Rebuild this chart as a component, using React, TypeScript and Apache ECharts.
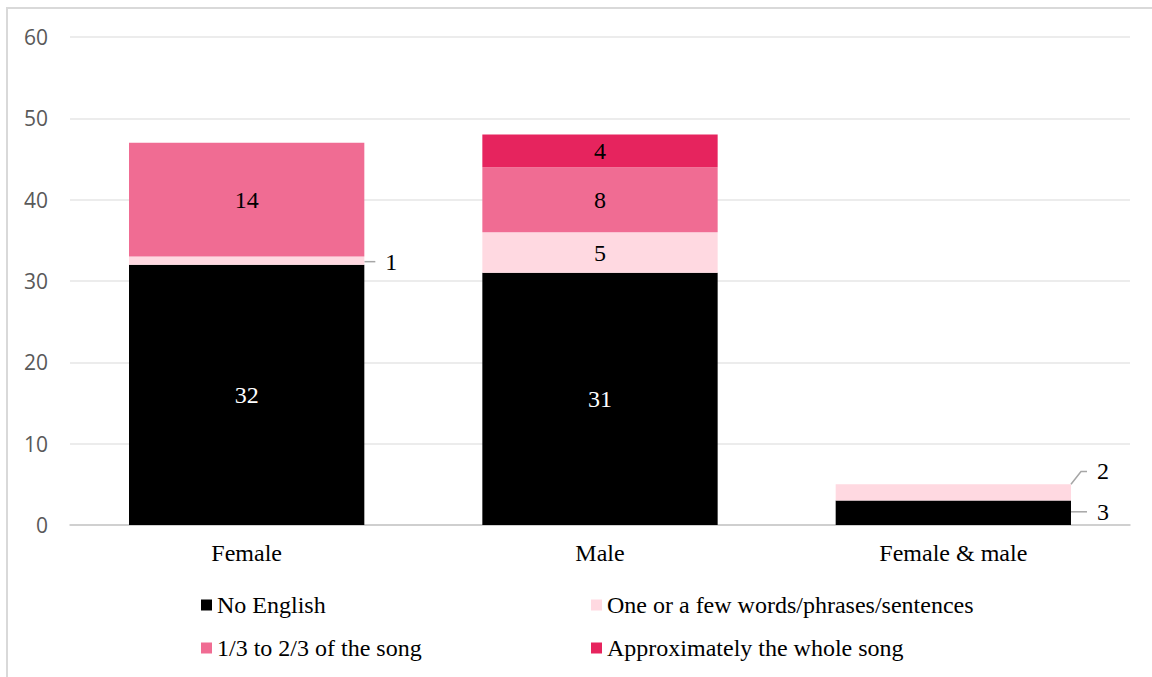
import React, { useEffect, useRef } from "react";
import * as echarts from "echarts";

const categories = ["Female", "Male", "Female & male"];
const seriesNames = [
  "No English",
  "One or a few words/phrases/sentences",
  "1/3 to 2/3 of the song",
  "Approximately the whole song",
];
const noEnglish = [32, 31, 3];
const fewWords = [1, 5, 2];
const oneThird = [14, 8, null];
const wholeSong = [null, 4, null];
const yTicks = { min: 0, max: 60, interval: 10 };

const colors = ["#000000", "#FFD9E1", "#F06C93", "#E6245E"];
const labelColors = ["#ffffff", "#000000", "#000000", "#000000"];

// labels drawn outside the bar with a leader line: [seriesIndex, dataIndex, offsetX, offsetY]
const outsideLabels: Array<[number, number, number, number]> = [
  [1, 0, 11, 1],
  [0, 2, 16, -1],
  [1, 2, 16, -21],
];

const serif = "'Liberation Serif', 'Times New Roman', serif";
const sans = "'Open Sans', 'Noto Sans', sans-serif";

export default function App() {
  const ref = useRef<HTMLDivElement>(null);
  useEffect(() => {
    if (!ref.current) return;
    const chart = echarts.init(ref.current, null, { renderer: "svg" });
    const values = [noEnglish, fewWords, oneThird, wholeSong];
    const series = values.map((vals, si) => ({
      name: seriesNames[si],
      type: "bar",
      stack: "total",
      barWidth: "66.6%",
      itemStyle: { color: colors[si] },
      label: {
        show: true,
        position: "inside",
        color: labelColors[si],
        fontFamily: serif,
        fontSize: 24,
      },
      labelLine: { show: false },
      labelLayout: (p: any) => {
        const o = outsideLabels.find(
          (x) => x[0] === p.seriesIndex && x[1] === p.dataIndex
        );
        if (!o) return {};
        return {
          x: p.rect.x + p.rect.width + o[2],
          y: p.rect.y + p.rect.height / 2 + o[3],
          align: "left",
          verticalAlign: "middle",
        };
      },
      emphasis: { disabled: true },
      data: vals.map((v, di) => {
        const o = outsideLabels.find((x) => x[0] === si && x[1] === di);
        if (!o || v == null) return v;
        return {
          value: v,
          label: {
            show: true,
            position: "right",
            padding: [0, 0, 0, 10],
            backgroundColor: "rgba(255,255,255,0)",
            color: "#000000",
          },
          labelLine: {
            show: true,
            length2: 6,
            lineStyle: { color: "#a6a6a6", width: 1.5 },
          },
        };
      }),
    }));

    chart.setOption({
      animation: false,
      backgroundColor: "#ffffff",
      graphic: [
        {
          type: "rect",
          shape: { x: 7, y: 8, width: 1200, height: 700 },
          style: { fill: "none", stroke: "#d9d9d9", lineWidth: 2 },
          silent: true,
        },
      ],
      grid: { left: 70, right: 22, top: 37, bottom: 152 },
      xAxis: {
        type: "category",
        data: categories,
        axisTick: { show: false },
        axisLine: { lineStyle: { color: "#c6c6c6", width: 1.5 } },
        axisLabel: {
          color: "#000000",
          fontFamily: serif,
          fontSize: 24,
          margin: 16,
        },
      },
      yAxis: {
        type: "value",
        min: yTicks.min,
        max: yTicks.max,
        interval: yTicks.interval,
        axisLine: { show: false },
        axisTick: { show: false },
        splitLine: { lineStyle: { color: "#e6e6e6", width: 1.5 } },
        axisLabel: {
          color: "#595959",
          fontFamily: sans,
          fontSize: 21,
          margin: 22,
        },
      },
      legend: [
        {
          left: 201,
          top: 593,
          orient: "vertical",
          padding: 0,
          itemWidth: 11,
          itemHeight: 11,
          itemGap: 19,
          icon: "rect",
          selectedMode: false,
          data: [seriesNames[0], seriesNames[2]],
          textStyle: { color: "#000000", fontFamily: serif, fontSize: 24 },
        },
        {
          left: 591,
          top: 593,
          orient: "vertical",
          padding: 0,
          itemWidth: 11,
          itemHeight: 11,
          itemGap: 19,
          icon: "rect",
          selectedMode: false,
          data: [seriesNames[1], seriesNames[3]],
          textStyle: { color: "#000000", fontFamily: serif, fontSize: 24 },
        },
      ],
      series,
    });
    return () => chart.dispose();
  }, []);
  return (
    <div
      ref={ref}
      style={{ position: "absolute", left: 0, top: 0, width: 1152, height: 677 }}
    />
  );
}
